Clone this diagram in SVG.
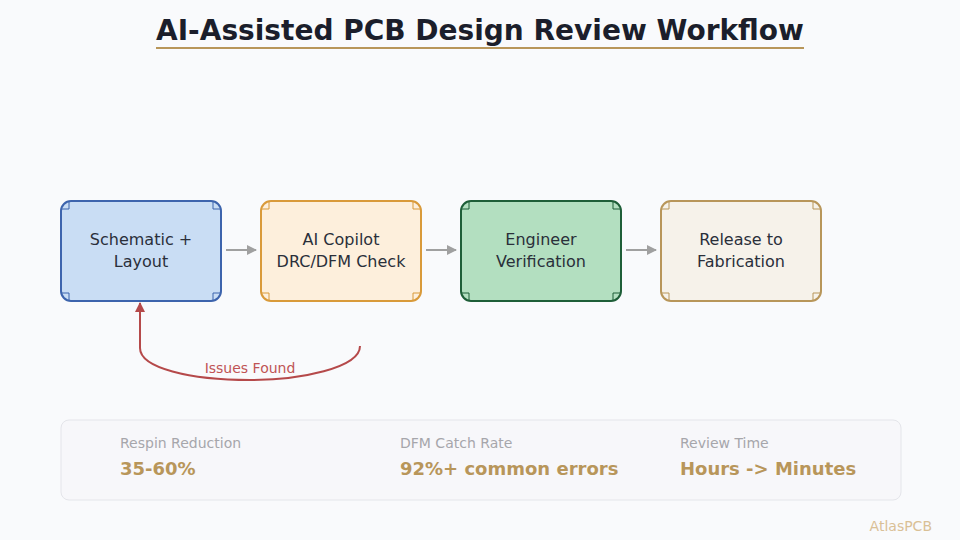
<svg xmlns="http://www.w3.org/2000/svg" width="960" height="540" viewBox="0 0 960 540">
<defs>
<style>
.t{font-family:"DejaVu Sans",sans-serif;}
.nt{font-family:"DejaVu Sans",sans-serif;font-size:16px;fill:#2a2f3a;text-anchor:middle;}
.box{stroke-width:2;}
.cm{fill:none;stroke-width:1;}
.conn{fill:none;stroke:#a0a0a0;stroke-width:2;}
.lab{font-family:"DejaVu Sans",sans-serif;font-size:14px;fill:#a6a6ab;}
.val{font-family:"DejaVu Sans",sans-serif;font-size:18px;font-weight:bold;fill:#b8965a;}
</style>
<marker id="ag" viewBox="0 0 10 10" refX="9" refY="5" markerWidth="5" markerHeight="5" orient="auto"><path d="M0,0 L10,5 L0,10 z" fill="#a0a0a0"/></marker>
<marker id="ar" viewBox="0 0 10 10" refX="9" refY="5" markerWidth="5" markerHeight="5" orient="auto"><path d="M0,0 L10,5 L0,10 z" fill="#b5494a"/></marker>
</defs>
<rect width="960" height="540" fill="#f9fafc"/>
<text class="t" x="480" y="40" text-anchor="middle" font-size="28" font-weight="bold" fill="#1b1e2b">AI-Assisted PCB Design Review Workflow</text>
<line x1="156" y1="48" x2="804" y2="48" stroke="#b8965a" stroke-width="2"/>

<g id="connectors">
<line class="conn" x1="226" y1="250" x2="256" y2="250" marker-end="url(#ag)"/>
<line class="conn" x1="426" y1="250" x2="456" y2="250" marker-end="url(#ag)"/>
<line class="conn" x1="626" y1="250" x2="656" y2="250" marker-end="url(#ag)"/>
<path d="M360,346 C360,368 300,380 250,380 C190,380 140,368 140,348 L140,303" fill="none" stroke="#b5494a" stroke-width="2" marker-end="url(#ar)"/>
<text class="t" x="250" y="373" text-anchor="middle" font-size="14" fill="#c05455">Issues Found</text>
</g>

<g id="node1">
<rect class="box" x="61" y="201" width="160" height="100" rx="10" fill="#c9ddf4" stroke="#3d64ad"/>
<path class="cm" stroke="#3d64ad" d="M61,209 H69 V201 M213,201 V209 H221 M221,293 H213 V301 M69,301 V293 H61"/>
<text class="nt" x="141" y="245">Schematic +</text>
<text class="nt" x="141" y="267">Layout</text>
</g>
<g id="node2">
<rect class="box" x="261" y="201" width="160" height="100" rx="10" fill="#fdefdc" stroke="#d99a3a"/>
<path class="cm" stroke="#d99a3a" d="M261,209 H269 V201 M413,201 V209 H421 M421,293 H413 V301 M269,301 V293 H261"/>
<text class="nt" x="341" y="245">AI Copilot</text>
<text class="nt" x="341" y="267">DRC/DFM Check</text>
</g>
<g id="node3">
<rect class="box" x="461" y="201" width="160" height="100" rx="10" fill="#b3dfc0" stroke="#1e5e38"/>
<path class="cm" stroke="#1e5e38" d="M461,209 H469 V201 M613,201 V209 H621 M621,293 H613 V301 M469,301 V293 H461"/>
<text class="nt" x="541" y="245">Engineer</text>
<text class="nt" x="541" y="267">Verification</text>
</g>
<g id="node4">
<rect class="box" x="661" y="201" width="160" height="100" rx="10" fill="#f6f2ea" stroke="#b8965a"/>
<path class="cm" stroke="#b8965a" d="M661,209 H669 V201 M813,201 V209 H821 M821,293 H813 V301 M669,301 V293 H661"/>
<text class="nt" x="741" y="245">Release to</text>
<text class="nt" x="741" y="267">Fabrication</text>
</g>

<g id="stats">
<rect x="61" y="420" width="840" height="80" rx="8" fill="#f7f7fa" stroke="#e4e5ea" stroke-width="1"/>
<text class="lab" x="120" y="448">Respin Reduction</text>
<text class="val" x="120" y="475">35-60%</text>
<text class="lab" x="400" y="448">DFM Catch Rate</text>
<text class="val" x="400" y="475">92%+ common errors</text>
<text class="lab" x="680" y="448">Review Time</text>
<text class="val" x="680" y="475">Hours -&gt; Minutes</text>
</g>
<text class="t" x="932" y="531" text-anchor="end" font-size="14" fill="#d9c096">AtlasPCB</text>
</svg>
